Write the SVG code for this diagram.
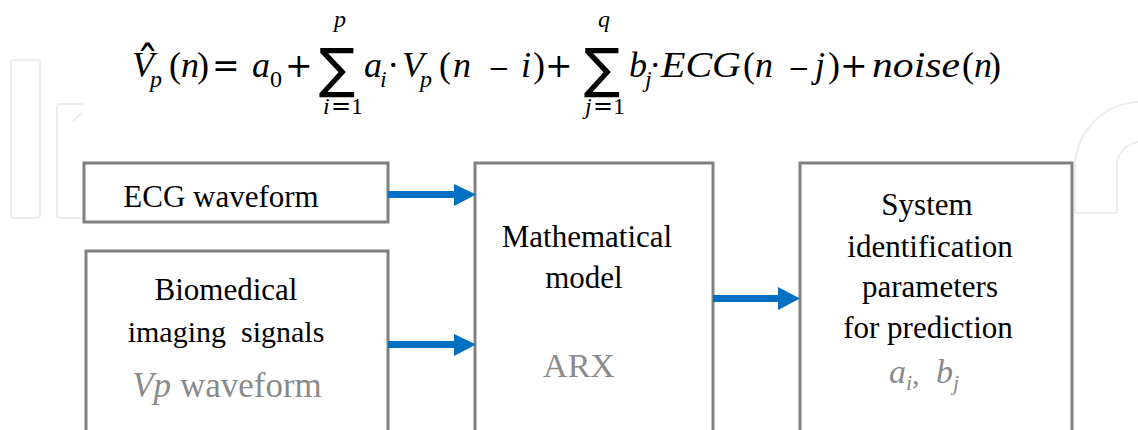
<svg xmlns="http://www.w3.org/2000/svg" width="1138" height="430" viewBox="0 0 1138 430">
<defs>
<style>
.wm{fill:none;stroke:#ededed;stroke-width:2}
.box{fill:#fff;stroke:#808080;stroke-width:3}
.t{font-family:"Liberation Serif","Times New Roman",serif;font-size:31px;fill:#000;text-anchor:middle}
.g{fill:#8a8a8a}
.f{font-family:"Liberation Serif","Times New Roman",serif;font-size:36px;font-style:italic;fill:#000}
.u{font-style:normal}
.o{font-family:"DejaVu Serif",serif;font-size:33px;font-style:normal}
.mn{font-family:"DejaVu Serif",serif;font-size:26px;font-style:normal}
.s{font-size:24px}
.hat{font-family:"DejaVu Serif",serif;font-size:46px;font-style:normal}
.sig{font-family:"DejaVu Sans",sans-serif;font-size:54px;font-style:normal}
.arrow{fill:#0070C0}
</style>
</defs>
<rect width="1138" height="430" fill="#fff"/>
<g id="watermark">
<rect class="wm" x="11" y="60" width="29" height="158" rx="3"/>
<path class="wm" d="M83 104 H60 Q57 104 57 107 V215 Q57 218 60 218 H83"/>
<path class="wm" d="M73 121 L82 113"/>
<path class="wm" d="M1075 213 V168 A66 66 0 0 1 1138 102"/>
<path class="wm" d="M1117 213 V166 A24 24 0 0 1 1138 142"/>
<path class="wm" d="M1075 213 H1117"/>
</g>
<g id="formula">
<text class="f" y="77"><tspan class="hat" x="136" y="80">ˆ</tspan><tspan x="132" y="77">V</tspan><tspan class="s" x="150" y="87">p</tspan><tspan class="u" x="169" y="77">(</tspan><tspan x="181">n</tspan><tspan class="u" x="197">)</tspan><tspan class="o" x="212">=</tspan><tspan x="252">a</tspan><tspan class="u s" x="270" y="87">0</tspan><tspan class="o" x="285" y="77">+</tspan><tspan class="sig" x="319" y="87">∑</tspan><tspan class="s" x="334" y="27">p</tspan><tspan class="s" x="323" y="114">i</tspan><tspan class="o s" x="331">=</tspan><tspan class="u s" x="351">1</tspan><tspan x="364" y="77">a</tspan><tspan class="s" x="380" y="87">i</tspan><tspan class="o" x="388" y="77">·</tspan><tspan x="402">V</tspan><tspan class="s" x="420" y="87">p</tspan><tspan class="u" x="439" y="77">(</tspan><tspan x="453">n</tspan><tspan class="mn" x="488">−</tspan><tspan x="521">i</tspan><tspan class="u" x="533">)</tspan><tspan class="o" x="545">+</tspan><tspan class="sig" x="584" y="87">∑</tspan><tspan class="s" x="598" y="27">q</tspan><tspan class="s" x="585" y="114">j</tspan><tspan class="o s" x="593">=</tspan><tspan class="u s" x="613">1</tspan><tspan x="629" y="77">b</tspan><tspan class="s" x="645" y="87">j</tspan><tspan class="o" x="650" y="77">·</tspan><tspan x="661" textLength="80" lengthAdjust="spacingAndGlyphs">ECG</tspan><tspan class="u" x="743">(</tspan><tspan x="755">n</tspan><tspan class="mn" x="788">−</tspan><tspan x="815">j</tspan><tspan class="u" x="828">)</tspan><tspan class="o" x="840">+</tspan><tspan x="872" textLength="88" lengthAdjust="spacingAndGlyphs">noise</tspan><tspan class="u" x="962">(</tspan><tspan x="974">n</tspan><tspan class="u" x="989">)</tspan></text>
</g>
<g id="ecg">
<rect class="box" x="84" y="163" width="304" height="59"/>
<text class="t" x="221" y="207">ECG waveform</text>
</g>
<g id="biomedical">
<rect class="box" x="86" y="251" width="302" height="200"/>
<text class="t" x="226" y="300">Biomedical</text>
<text class="t" x="226" y="342" xml:space="preserve" style="font-size:30px;white-space:pre">imaging  signals</text>
<text class="t g" x="227" y="397" style="font-size:35px"><tspan style="font-style:italic">Vp</tspan> waveform</text>
</g>
<g id="model">
<rect class="box" x="475" y="163" width="238" height="290"/>
<text class="t" x="587" y="247">Mathematical</text>
<text class="t" x="584" y="288">model</text>
<text class="t g" x="579" y="377" style="font-size:34px">ARX</text>
</g>
<g id="sysid">
<rect class="box" x="800" y="163" width="272" height="290"/>
<text class="t" x="927" y="215">System</text>
<text class="t" x="930" y="257">identification</text>
<text class="t" x="930" y="297">parameters</text>
<text class="t" x="928" y="338">for prediction</text>
<text class="g" style="font-family:'Liberation Serif',serif;font-style:italic;font-size:34px" y="383"><tspan x="889">a</tspan><tspan x="906" y="390" style="font-size:22px">i</tspan><tspan x="912" y="384" style="font-size:30px">,</tspan><tspan x="936" y="383">b</tspan><tspan x="953" y="390" style="font-size:22px">j</tspan></text>
</g>
<g id="connectors">
<rect class="arrow" x="388" y="191" width="67" height="7"/>
<polygon class="arrow" points="454,184 476,194.5 454,206"/>
<rect class="arrow" x="388" y="341" width="67" height="7"/>
<polygon class="arrow" points="454,334 476,344.5 454,356"/>
<rect class="arrow" x="713" y="295" width="66" height="7"/>
<polygon class="arrow" points="778,287 800,298.5 778,310"/>
</g>
</svg>
